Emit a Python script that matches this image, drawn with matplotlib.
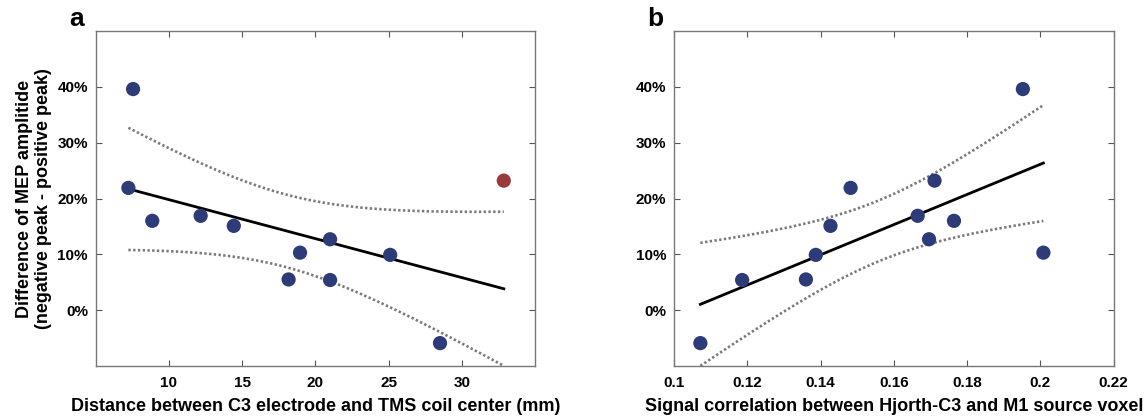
import matplotlib
matplotlib.use("Agg")
import matplotlib.pyplot as plt
from matplotlib.ticker import FuncFormatter
import numpy as np

plt.rcParams['font.family'] = ['Liberation Sans', 'DejaVu Sans']
plt.rcParams['font.weight'] = 'bold'

# MEP amplitude difference per subject (%)
mep_diff = [39.6, 21.9, 16.0, 16.9, 15.1, 10.3, 5.5, 12.7, 5.4, 9.9, -5.9, 23.2]
# distance C3 electrode - TMS coil center (mm)
distance = [7.56, 7.24, 8.87, 12.17, 14.43, 18.95, 18.17, 21.0, 21.0, 25.1, 28.5, 32.85]
# signal correlation Hjorth-C3 vs M1 source voxel, same subject order
correlation = [0.1952, 0.1482, 0.1764, 0.1665, 0.1427, 0.2008, 0.1360, 0.1696,
               0.1186, 0.1387, 0.1072, 0.1711]
# subject marked in red in panel a
highlight_a = [False] * 11 + [True]

y_ticks = [0, 10, 20, 30, 40]
xa_ticks = [10, 15, 20, 25, 30]
xb_ticks = [0.1, 0.12, 0.14, 0.16, 0.18, 0.2, 0.22]

T_CRIT = 2.228  # t(0.975, df=10)

NAVY = '#2d3b78'
RED = '#983a3b'
SPINE = '#777777'
DOTS = (0, (0.9, 0.9))


def fit_with_band(x, y):
    x = np.asarray(x, float)
    y = np.asarray(y, float)
    n = len(x)
    slope, icpt = np.polyfit(x, y, 1)
    resid = y - (slope * x + icpt)
    s = np.sqrt(np.sum(resid ** 2) / (n - 2))
    sxx = np.sum((x - x.mean()) ** 2)
    xs = np.linspace(x.min(), x.max(), 200)
    ys = slope * xs + icpt
    half = T_CRIT * s * np.sqrt(1.0 / n + (xs - x.mean()) ** 2 / sxx)
    return xs, ys, ys - half, ys + half


def style_axes(ax):
    for sp in ax.spines.values():
        sp.set_color(SPINE)
        sp.set_linewidth(1.0)
    ax.tick_params(direction='in', top=True, right=True, length=4, width=0.8,
                   color='#555555', labelsize=11)
    ax.tick_params(axis='x', pad=7)
    ax.tick_params(axis='y', pad=5.5)
    ax.set_ylim(-10, 50)
    ax.set_yticks(y_ticks)
    ax.yaxis.set_major_formatter(FuncFormatter(lambda v, p: f"{v:.0f}%"))


def draw_panel(ax, x, y, colors):
    xs, ys, lo, hi = fit_with_band(x, y)
    ax.plot(xs, hi, ls=DOTS, color='#7a7a7a', lw=1.9, zorder=2)
    ax.plot(xs, lo, ls=DOTS, color='#7a7a7a', lw=1.9, zorder=2)
    ax.plot(xs, ys, color='black', lw=2.0, zorder=3)
    ax.scatter(x, y, s=105, c=colors, edgecolors='none', zorder=4)


fig = plt.figure(figsize=(11.47, 4.19), dpi=100)
ax_a = fig.add_axes([0.0833, 0.1265, 0.3834, 0.7995])
ax_b = fig.add_axes([0.5876, 0.1265, 0.3834, 0.7995])

# panel a
draw_panel(ax_a, distance, mep_diff, [RED if h else NAVY for h in highlight_a])
style_axes(ax_a)
ax_a.set_xlim(5, 35)
ax_a.set_xticks(xa_ticks)
ax_a.set_xlabel("Distance between C3 electrode and TMS coil center (mm)",
                fontsize=13, fontweight='bold', labelpad=6)
ax_a.set_ylabel("Difference of MEP amplitide\n(negative peak - positive peak)",
                fontsize=13, fontweight='bold', linespacing=1.15)
ax_a.yaxis.set_label_coords(-0.099, 0.5)

# panel b
draw_panel(ax_b, correlation, mep_diff, NAVY)
style_axes(ax_b)
ax_b.set_xlim(0.1, 0.22)
ax_b.set_xticks(xb_ticks)
ax_b.xaxis.set_major_formatter(FuncFormatter(lambda v, p: f"{v:g}"))
ax_b.set_xlabel("Signal correlation between Hjorth-C3 and M1 source voxel",
                fontsize=13, fontweight='bold', labelpad=6)

fig.text(77 / 1147, 1 - 19 / 419, "a", fontsize=19, fontweight='bold',
         ha='center', va='center')
fig.text(655 / 1147, 1 - 19 / 419, "b", fontsize=19, fontweight='bold',
         ha='center', va='center')

fig.savefig("out.png", dpi=100)
